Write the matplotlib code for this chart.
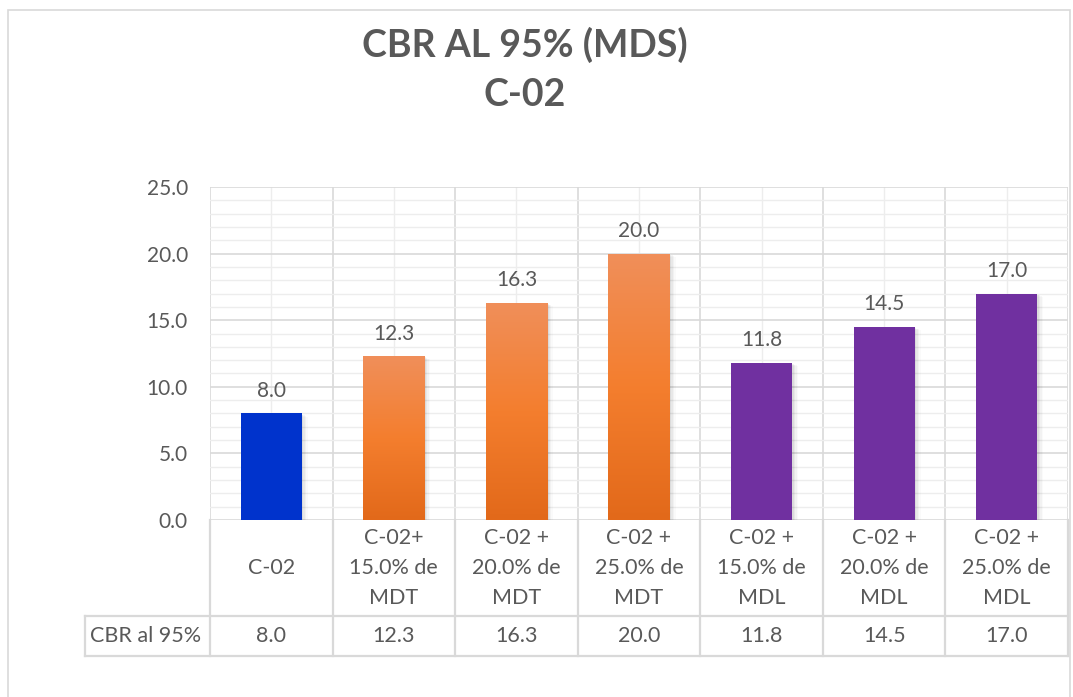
import numpy as np
import matplotlib.pyplot as plt
from matplotlib.patches import Rectangle
from matplotlib.colors import LinearSegmentedColormap
from matplotlib.lines import Line2D
import matplotlib.transforms as mtransforms

plt.rcParams['font.family'] = ['Lato', 'DejaVu Sans']

# Data
categories = ["C-02",
              "C-02+\n15.0% de\nMDT",
              "C-02 +\n20.0% de\nMDT",
              "C-02 +\n25.0% de\nMDT",
              "C-02 +\n15.0% de\nMDL",
              "C-02 +\n20.0% de\nMDL",
              "C-02 +\n25.0% de\nMDL"]
cbr_values = [8.0, 12.3, 16.3, 20.0, 11.8, 14.5, 17.0]
bar_styles = ["blue", "orange", "orange", "orange", "purple", "purple", "purple"]
row_label = "CBR al 95%"

TEXT = "#595959"
GRID = "#D9D9D9"
MINOR = "#EDEDED"
solid = {"blue": "#0033CC", "purple": "#7030A0"}
orange_cmap = LinearSegmentedColormap.from_list(
    "orange_grad", ["#E2691A", "#F47E2E", "#F08F5A"])

fig = plt.figure(figsize=(10.73, 6.97), dpi=100)

# chart border
fig.add_artist(Rectangle((8 / 1073, -0.05), 1062 / 1073, 1.05 - 10 / 697,
                         transform=fig.transFigure, fill=False,
                         edgecolor=GRID, linewidth=1.2))

ax = fig.add_axes([210 / 1073, 1 - 520 / 697, 858 / 1073, 333 / 697])
n = len(categories)
ax.set_xlim(0, n)
ax.set_ylim(0, 25)

# grid
ax.set_yticks(np.arange(0, 26, 5))
ax.set_yticks(np.arange(0, 26, 1), minor=True)
ax.set_xticks(np.arange(0, n + 1))
ax.set_xticks(np.arange(n) + 0.5, minor=True)
ax.grid(which="major", color=GRID, linewidth=1.2)
ax.grid(which="minor", color=MINOR, linewidth=1.0)
ax.set_axisbelow(True)
ax.set_xticklabels([])
ax.tick_params(which="both", length=0)
ax.tick_params(axis="x", which="minor", labelbottom=False)
ax.set_yticklabels([f"{v:.1f}" for v in np.arange(0, 26, 5)],
                   fontsize=15, color=TEXT)
ax.tick_params(axis="y", pad=16)
for s in ax.spines.values():
    s.set_visible(False)

x = np.arange(n) + 0.5
width = 0.5
grad = np.linspace(0, 1, 256).reshape(-1, 1)
for xi, v, style in zip(x, cbr_values, bar_styles):
    left = xi - width / 2
    # soft drop shadow
    for k, a in enumerate([0.05, 0.04, 0.03, 0.02]):
        dx = 0.012 * (k + 1)
        ax.add_patch(Rectangle((left + dx * 0.6, -0.1), width + dx * 0.4, v + 0.02 - 0.05 * k,
                               facecolor="black", alpha=a, linewidth=0, zorder=2))
    if style == "orange":
        rect = Rectangle((left, 0), width, v, facecolor="none", linewidth=0, zorder=3)
        ax.add_patch(rect)
        im = ax.imshow(grad, extent=[left, left + width, 0, v], origin="lower",
                       cmap=orange_cmap, aspect="auto", zorder=3)
        im.set_clip_path(rect)
    else:
        ax.bar(xi, v, width=width, color=solid[style], zorder=3)
    ax.annotate(f"{v:.1f}", (xi, v), xytext=(0, 9), textcoords="offset points",
                ha="center", va="bottom", fontsize=15, color=TEXT)
ax.set_xlim(0, n)
ax.set_ylim(0, 25)

# data table under the axis
trans = mtransforms.blended_transform_factory(ax.transData, ax.transAxes)
y_cat = -96 / 333
y_row = -136 / 333
x_head = -125 / 858 * n

def tline(xs, ys):
    ax.add_line(Line2D(xs, ys, transform=trans, color=GRID, linewidth=1.6,
                       clip_on=False))

for i in range(n + 1):
    tline([i, i], [0, y_row])
tline([x_head, x_head], [y_cat, y_row])
tline([x_head, n], [y_cat, y_cat])
tline([x_head, n], [y_row, y_row])

for xi, cat, v in zip(x, categories, cbr_values):
    ax.text(xi, y_cat / 2, cat, transform=trans, ha="center", va="center",
            fontsize=15.5, color=TEXT, linespacing=1.62)
    ax.text(xi, (y_cat + y_row) / 2, f"{v:.1f}", transform=trans,
            ha="center", va="center", fontsize=15.5, color=TEXT)
ax.text(x_head + 0.04, (y_cat + y_row) / 2, row_label, transform=trans,
        ha="left", va="center", fontsize=15.5, color=TEXT)

fig.text(525 / 1073, 1 - 45 / 697, "CBR AL 95% (MDS)", ha="center", va="center",
         fontsize=27, fontweight="bold", color=TEXT)
fig.text(525 / 1073, 1 - 95 / 697, "C-02", ha="center", va="center",
         fontsize=27, fontweight="bold", color=TEXT)

fig.savefig("out.png", dpi=100)
